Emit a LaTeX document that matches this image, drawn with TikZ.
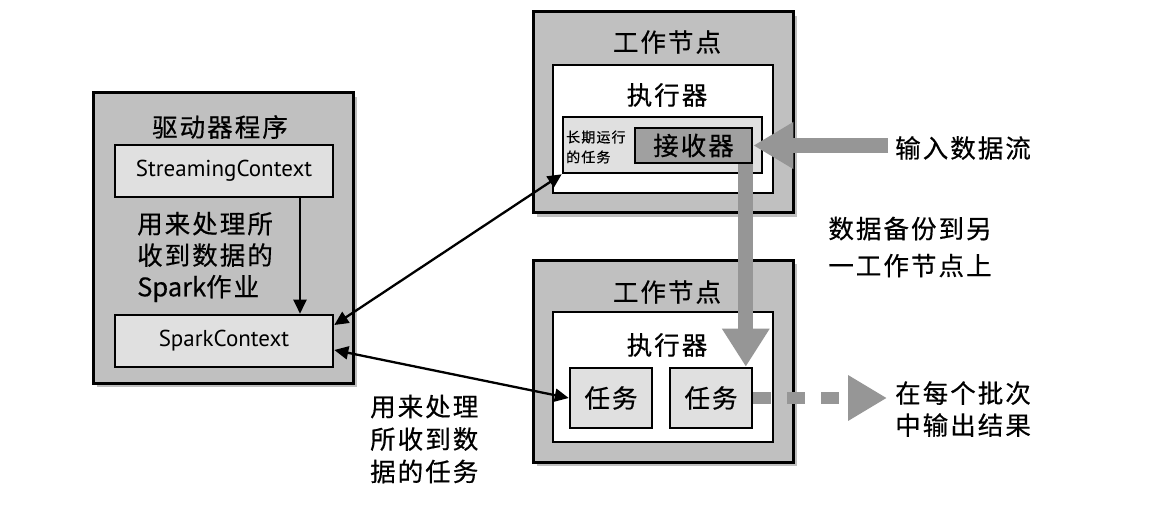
\documentclass[tikz,border=0pt]{standalone}
\usepackage{fontspec}
\usetikzlibrary{arrows.meta,shadows}
\newfontfamily\cjk{Noto Sans CJK SC}[LetterSpace=8,FakeBold=0.5]
\newfontfamily\cjkn{Noto Sans CJK SC}[FakeBold=0.5]
\newfontfamily\lat{PT Sans}
\definecolor{boxgray}{RGB}{192,192,192}
\definecolor{lightgray2}{RGB}{224,224,224}
\definecolor{recvgray}{RGB}{160,160,160}
\definecolor{arrowgray}{RGB}{150,150,150}
\tikzset{
  outerbox/.style={draw=black,line width=3pt,fill=boxgray,inner sep=0pt,
    drop shadow={shadow xshift=4pt,shadow yshift=-4pt,opacity=0.5}},
  execbox/.style={draw=black,line width=2.6pt,fill=white,inner sep=0pt},
  lightbox/.style={draw=black,line width=2.6pt,fill=lightgray2,inner sep=0pt},
  recvbox/.style={draw=black,line width=2.6pt,fill=recvgray,inner sep=0pt},
  big/.style={font=\cjk\fontsize{25.5}{28}\selectfont,inner sep=0pt},
  small/.style={font=\cjk\fontsize{14}{20}\selectfont,inner sep=0pt,align=left},
  para/.style={font=\cjk\fontsize{25.5}{#1}\selectfont,inner sep=0pt,align=left},
  latin/.style={font=\lat\fontsize{23}{24}\selectfont},
  blk/.style={line width=2.3pt,-{Triangle[length=14pt,width=13pt]}},
  blkboth/.style={line width=2.3pt,{Triangle[length=14pt,width=13pt]}-{Triangle[length=14pt,width=13pt]}},
  grayarrow/.style={draw=arrowgray,line width=15pt,-{Triangle[length=40pt,width=44pt]}},
}
\begin{document}
\begin{tikzpicture}[x=1pt,y=-1pt]
\useasboundingbox (0,0) rectangle (1170,505);
% driver
\node[outerbox,minimum width=260pt,minimum height=290pt] (drv) at (223,238) {};
\node[big] (drvt) at (220,127) {驱动器程序};
\node[lightbox,minimum width=218pt,minimum height=52pt,latin] (sc) at (224,171) {StreamingContext};
\node[lightbox,minimum width=218pt,minimum height=52pt,latin] (spk) at (224,341) {SparkContext};
\node[para=31.5pt,anchor=west] (drvtxt) at (137,257) {用来处理所\\收到数据的\\{\cjkn Spark}作业};
\draw[blk] ([xshift=76pt]sc.south) -- ([xshift=76pt]spk.north);
% worker 1
\node[outerbox,minimum width=260pt,minimum height=201pt] (w1) at (663,112.5) {};
\node[big] (w1t) at (667,42) {工作节点};
\node[execbox,minimum width=220pt,minimum height=128pt] (e1) at (663,129) {};
\node[big] (e1t) at (667,95) {执行器};
\node[lightbox,minimum width=199pt,minimum height=56pt] (lrt) at (662.5,145) {};
\node[small,anchor=west] (lrtt) at (566,147) {长期运行\\的任务};
\node[recvbox,minimum width=117pt,minimum height=35pt,big] (recv) at (693.5,145.5) {接收器};
% worker 2
\node[outerbox,minimum width=260pt,minimum height=202pt] (w2) at (663,361) {};
\node[big] (w2t) at (667,292) {工作节点};
\node[execbox,minimum width=220pt,minimum height=130pt] (e2) at (663,377) {};
\node[big] (e2t) at (667,345) {执行器};
\node[lightbox,minimum width=82pt,minimum height=60pt,big] (t1) at (611,398) {任务};
\node[lightbox,minimum width=82pt,minimum height=60pt,big] (t2) at (711,398) {任务};
% gray arrows
\coordinate (inS) at (888,145.5);
\draw[grayarrow] (inS) -- (recv.east);
\draw[grayarrow,-{Triangle[length=38pt,width=45pt]}] ([xshift=-7.5pt]recv.south east) -- ([xshift=-7.5pt]t2.north east);
\coordinate (outE) at (887,398);
\draw[draw=arrowgray,line width=12pt,dash pattern=on 18pt off 16pt,-{Triangle[length=39pt,width=43pt]}] (t2.east) -- (outE);
% black arrows
\draw[blkboth] ([yshift=16pt]spk.east) -- (lrt.south west);
\draw[blkboth] ([yshift=-9pt]spk.east) -- (t1.west);
% labels
\node[big,anchor=west] (inl) at (895,148) {输入数据流};
\node[para=37pt,align=center] (bak) at (910,247) {数据备份到另\\一工作节点上};
\node[para=32pt,anchor=west] (outl) at (895,409) {在每个批次\\中输出结果};
\node[para=32.5pt,anchor=west] (tskl) at (370,439) {用来处理\\所收到数\\据的任务};
\end{tikzpicture}
\end{document}
